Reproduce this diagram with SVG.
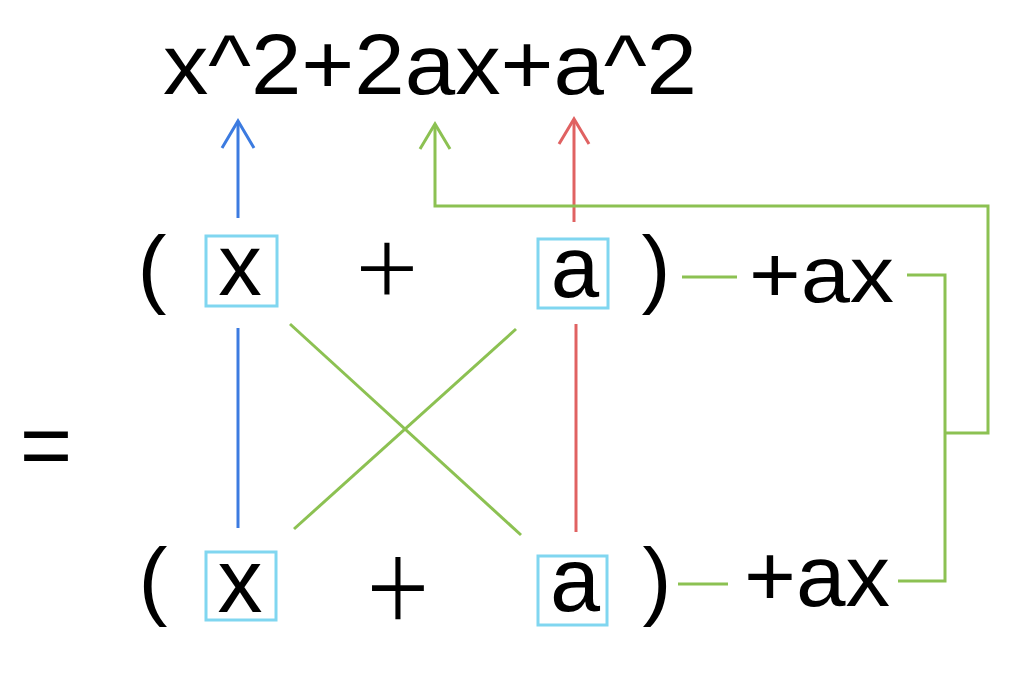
<svg xmlns="http://www.w3.org/2000/svg" width="1024" height="690" viewBox="0 0 1024 690">
<style>
.t{font-family:"Liberation Sans",Arial,sans-serif;fill:#000}
.thin{font-family:Inter,"Liberation Sans",sans-serif;font-weight:150;fill:#000}
.box{fill:none;stroke:#80d6f0;stroke-width:3}
.c{fill:none;stroke-width:3;stroke-linecap:butt;stroke-linejoin:miter}
.blue{stroke:#3c7be0}
.green{stroke:#8cc152}
.red{stroke:#e06262}
</style>
<defs>
<marker id="ab" viewBox="-30 -20 34 40" refX="0" refY="0" markerWidth="34" markerHeight="40" markerUnits="userSpaceOnUse" orient="auto"><path d="M-27,-16 L0,0 L-27,16" fill="none" stroke="#3c7be0" stroke-width="3"/></marker>
<marker id="ag" viewBox="-30 -20 34 40" refX="0" refY="0" markerWidth="34" markerHeight="40" markerUnits="userSpaceOnUse" orient="auto"><path d="M-25,-15 L0,0 L-25,15" fill="none" stroke="#8cc152" stroke-width="3"/></marker>
<marker id="ar" viewBox="-30 -20 34 40" refX="0" refY="0" markerWidth="34" markerHeight="40" markerUnits="userSpaceOnUse" orient="auto"><path d="M-25,-15 L0,0 L-25,15" fill="none" stroke="#e06262" stroke-width="3"/></marker>
</defs>
<rect width="1024" height="690" fill="#fff"/>

<g id="result"><text class="t" x="163" y="94" font-size="85" textLength="534" lengthAdjust="spacingAndGlyphs">x^2+2ax+a^2</text></g>
<g id="equals"><text class="t" x="46" y="476" font-size="90" text-anchor="middle">=</text></g>

<g id="row1">
<text class="t" x="152" y="297" font-size="87" text-anchor="middle">(</text>
<g id="x1"><rect class="box" x="206" y="236" width="71" height="70"/><text class="t" x="240" y="295" font-size="87" text-anchor="middle">x</text></g>
<text class="thin" transform="translate(387,271)" x="0" y="32" font-size="120" text-anchor="middle">+</text>
<g id="a1"><rect class="box" x="538" y="239" width="70" height="69"/><text class="t" x="575" y="297" font-size="87" text-anchor="middle">a</text></g>
<text class="t" x="656" y="297" font-size="87" text-anchor="middle">)</text>
<g id="ax1"><text class="t" x="749" y="302" font-size="80" textLength="145" lengthAdjust="spacingAndGlyphs">+ax</text></g>
</g>

<g id="row2">
<text class="t" x="153" y="609" font-size="87" text-anchor="middle">(</text>
<g id="x2"><rect class="box" x="206" y="552" width="70" height="68"/><text class="t" x="240" y="612" font-size="90" text-anchor="middle">x</text></g>
<text class="thin" transform="translate(398,591) scale(1,1.2)" x="0" y="32" font-size="120" text-anchor="middle">+</text>
<g id="a2"><rect class="box" x="538" y="556" width="69" height="69"/><text class="t" x="575" y="611" font-size="90" text-anchor="middle">a</text></g>
<text class="t" x="657" y="609" font-size="87" text-anchor="middle">)</text>
<g id="ax2"><text class="t" x="744" y="606" font-size="88" textLength="146" lengthAdjust="spacingAndGlyphs">+ax</text></g>
</g>

<g id="connectors">
<path class="c blue" d="M238,218 V121" marker-end="url(#ab)"/>
<path class="c red" d="M574,222 V119" marker-end="url(#ar)"/>
<path class="c green" d="M944,433 H988 V206 H435 V124" marker-end="url(#ag)"/>
<path class="c green" d="M907,275 H945 V581 H898"/>
<path class="c green" d="M682,277 H737"/>
<path class="c green" d="M678,584 H728"/>
<path class="c blue" d="M238,328 V528"/>
<path class="c red" d="M576,324 V532"/>
<path class="c green" d="M290,324 L521,535"/>
<path class="c green" d="M516,329 L294,529"/>
</g>
</svg>
